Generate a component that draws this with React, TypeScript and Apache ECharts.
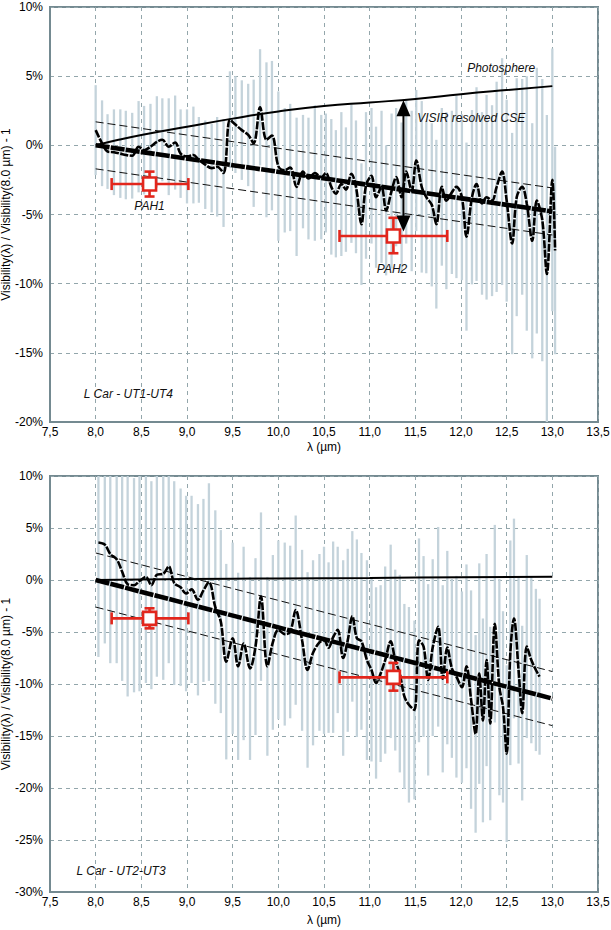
import React, { useEffect, useRef } from "react";
import * as echarts from "echarts";

// ---------- DATA ----------
// Panel A : L Car - UT1-UT4
const lambdaA = [8.00, 8.07, 8.13, 8.20, 8.27, 8.33, 8.40, 8.47, 8.53, 8.60, 8.67, 8.73, 8.80, 8.87, 8.93, 9.00, 9.07, 9.13, 9.20, 9.27, 9.33, 9.40, 9.47, 9.53, 9.60, 9.67, 9.73, 9.80, 9.87, 9.93, 10.00, 10.07, 10.13, 10.20, 10.27, 10.33, 10.40, 10.47, 10.52, 10.58, 10.63, 10.69, 10.74, 10.80, 10.85, 10.91, 10.96, 11.02, 11.07, 11.13, 11.18, 11.24, 11.29, 11.35, 11.40, 11.46, 11.51, 11.57, 11.62, 11.68, 11.73, 11.79, 11.84, 11.90, 11.95, 12.01, 12.06, 12.12, 12.17, 12.23, 12.28, 12.34, 12.39, 12.45, 12.50, 12.56, 12.61, 12.67, 12.72, 12.78, 12.83, 12.89, 12.94, 13.00, 13.03];
const visA = [1.1, 0.15, -0.45, -0.5, -0.6, -0.7, -0.75, -0.1, -0.35, -0.1, 0.25, 0.4, -0.1, 0.2, -0.6, -0.8, -0.7, -1.05, -1.4, -1.65, -1.55, -2.0, 1.85, 1.5, 1.1, 0.75, 0.15, 2.75, 0.4, 0.7, -1.5, -1.8, -1.6, -3.0, -1.9, -2.4, -2.0, -2.3, -2.0, -3.0, -3.5, -2.8, -3.2, -2.05, -3.0, -5.7, -2.9, -2.2, -3.75, -3.0, -4.7, -3.3, -2.3, -3.75, -1.9, -3.3, -1.1, -3.0, -3.75, -4.3, -5.7, -3.0, -4.0, -3.4, -3.0, -3.75, -6.6, -3.75, -2.8, -4.2, -3.75, -4.0, -3.0, -1.9, -4.0, -7.1, -3.75, -3.0, -4.2, -6.9, -4.0, -5.4, -9.3, -2.5, -7.6];
const errA = [3.25, 3.1, 2.7, 3.1, 3.2, 3.2, 3.1, 3.3, 3.2, 3.1, 3.3, 3.0, 3.5, 3.4, 3.2, 3.4, 3.5, 3.1, 3.2, 3.2, 3.6, 3.9, 3.5, 3.5, 3.6, 3.7, 4.6, 4.2, 5.6, 5.4, 5.4, 4.5, 4.6, 5.0, 4.1, 4.4, 4.9, 4.5, 4.3, 4.9, 4.6, 5.2, 4.5, 5.0, 4.8, 4.4, 5.3, 4.9, 5.1, 5.5, 4.7, 5.6, 5.0, 5.4, 5.2, 5.8, 5.1, 6.2, 5.5, 5.9, 6.1, 5.7, 6.4, 5.9, 6.6, 6.0, 6.8, 6.3, 7.0, 6.6, 7.4, 6.9, 7.6, 8.2, 7.3, 8.0, 8.6, 7.8, 9.2, 8.5, 9.6, 10.2, 11.5, 9.5, 7.5];
const photoLambdaA = [8.0, 8.25, 8.5, 9.0, 9.5, 10.0, 10.5, 11.0, 11.5, 12.0, 12.5, 13.0];
const photoA = [0, 0.4, 0.75, 1.35, 1.93, 2.45, 2.85, 3.1, 3.35, 3.7, 4.0, 4.28];
const fitLambda = [8.0, 13.0];
const fitA = [0, -4.78];
const fitBandA = 1.7;
// PAH points: [lambda, value, lambdaLow, lambdaHigh, valueLow, valueHigh]
const pahA = [
  [8.59, -2.8, 8.175, 9.015, -3.7, -1.9],
  [11.26, -6.55, 10.67, 11.85, -7.8, -5.24],
];
const cseArrowA = [11.37, 3.26, -6.23];

// Panel B : L Car - UT2-UT3
const lambdaB = [8.03, 8.10, 8.16, 8.23, 8.29, 8.35, 8.42, 8.48, 8.55, 8.61, 8.67, 8.74, 8.80, 8.86, 8.93, 8.99, 9.05, 9.12, 9.18, 9.24, 9.31, 9.37, 9.43, 9.50, 9.56, 9.62, 9.69, 9.75, 9.81, 9.88, 9.94, 10.00, 10.07, 10.13, 10.19, 10.26, 10.32, 10.38, 10.45, 10.50, 10.55, 10.60, 10.65, 10.71, 10.76, 10.81, 10.86, 10.91, 10.97, 11.02, 11.07, 11.12, 11.17, 11.23, 11.28, 11.33, 11.38, 11.43, 11.49, 11.54, 11.59, 11.64, 11.69, 11.75, 11.80, 11.85, 11.90, 11.95, 12.01, 12.06, 12.11, 12.16, 12.20, 12.24, 12.28, 12.32, 12.37, 12.42, 12.46, 12.50, 12.54, 12.58, 12.63, 12.67, 12.72, 12.77, 12.82, 12.86];
const visB = [3.6, 3.4, 2.5, 2.0, 0.8, -0.4, -0.5, -0.1, 0.3, -0.5, 0.5, 0.6, 1.3, -0.3, -0.7, -1.3, -0.9, -1.9, -1.0, -0.2, -2.6, -4.0, -7.85, -5.6, -8.3, -6.1, -8.5, -6.4, -1.6, -8.3, -6.0, -4.8, -5.2, -5.0, -2.9, -5.8, -8.65, -7.0, -6.0, -5.8, -6.5, -5.5, -4.8, -7.5, -5.8, -3.5, -5.6, -5.9, -7.7, -8.65, -9.9, -9.0, -7.7, -5.9, -7.7, -9.0, -11.2, -12.0, -12.5, -5.8, -6.4, -9.6, -6.5, -4.5, -9.5, -6.5, -8.5, -9.3, -10.3, -8.3, -11.5, -14.8, -9.0, -13.5, -7.7, -13.8, -4.2, -10.3, -12.2, -16.7, -7.0, -3.7, -8.65, -12.8, -6.4, -7.7, -8.65, -9.3];
const errB = [11.0, 9.5, 10.5, 10.0, 10.5, 10.8, 10.3, 10.6, 10.2, 10.0, 9.8, 10.2, 9.3, 9.8, 9.5, 9.4, 9.0, 9.2, 8.8, 9.5, 9.3, 8.8, 9.4, 9.2, 9.0, 9.3, 8.8, 8.5, 8.1, 8.6, 8.4, 8.6, 8.8, 8.3, 9.1, 8.7, 9.4, 8.9, 8.5, 9.0, 8.2, 9.2, 8.0, 9.4, 8.8, 8.2, 9.5, 8.5, 9.6, 8.8, 9.2, 8.5, 9.0, 9.3, 8.7, 9.5, 8.9, 9.4, 8.6, 9.8, 8.7, 9.2, 8.5, 9.6, 9.0, 9.3, 8.6, 9.7, 9.2, 9.8, 10.5, 9.5, 10.6, 9.8, 10.2, 9.3, 9.5, 10.4, 9.2, 8.5, 10.8, 9.6, 9.0, 8.4, 8.8, 8.0, 7.8, 7.5];
const photoLambdaB = [8.0, 9.0, 10.0, 11.0, 12.0, 13.0];
const photoB = [0, 0.1, 0.15, 0.2, 0.27, 0.32];
const fitB = [0, -11.4];
const fitBandB = 2.6;
const pahB = [
  [8.59, -3.69, 8.175, 9.015, -4.65, -2.72],
  [11.26, -9.36, 10.67, 11.85, -10.64, -7.97],
];

// axis ranges / ticks
const xMin = 7.5, xMax = 13.5, xStep = 0.5;
const yRangeA = [-20, 10];
const yRangeB = [-30, 10];
const yStep = 5;

// ---------- STYLE ----------
const FONT = "'Liberation Sans', Arial, Helvetica, sans-serif";
const RED = "#e2261c";
const BAR = "#c4d3db";
const FRAME = "#748a91";
const GRIDC = "#93a6ab";

function pairs(xs: number[], ys: number[]) {
  return xs.map((x, i) => [x, ys[i]]);
}

function errRender(lo: number, hi: number) {
  return (params: any, api: any) => {
    const x = api.value(0);
    const a = Math.max(api.value(1), lo);
    const b = Math.min(api.value(2), hi);
    if (b <= lo || a >= hi) return null;
    const p1 = api.coord([x, b]);
    const p2 = api.coord([x, a]);
    return {
      type: "line",
      shape: { x1: p1[0], y1: p1[1], x2: p2[0], y2: p2[1] },
      style: { stroke: BAR, lineWidth: 2.3 },
    };
  };
}

function pahRender(params: any, api: any) {
  const x = api.value(0), y = api.value(1);
  const c = api.coord([x, y]);
  const l = api.coord([api.value(2), y]);
  const r = api.coord([api.value(3), y]);
  const b = api.coord([x, api.value(4)]);
  const t = api.coord([x, api.value(5)]);
  const lw = 2.6, hc = 6, vc = 5, s = 6.5;
  const st = { stroke: RED, lineWidth: lw };
  const ln = (x1: number, y1: number, x2: number, y2: number) => ({ type: "line", shape: { x1, y1, x2, y2 }, style: st });
  return {
    type: "group",
    children: [
      ln(l[0], c[1], r[0], c[1]),
      ln(l[0], c[1] - hc, l[0], c[1] + hc),
      ln(r[0], c[1] - hc, r[0], c[1] + hc),
      ln(c[0], t[1], c[0], b[1]),
      ln(c[0] - vc, t[1], c[0] + vc, t[1]),
      ln(c[0] - vc, b[1], c[0] + vc, b[1]),
      { type: "rect", shape: { x: c[0] - s, y: c[1] - s, width: 2 * s, height: 2 * s }, style: { fill: "#fff", stroke: RED, lineWidth: lw } },
    ],
  };
}

function arrowRender(params: any, api: any) {
  const x = api.value(0);
  const t = api.coord([x, api.value(1)]);
  const b = api.coord([x, api.value(2)]);
  const hw = 7, hh = 16;
  return {
    type: "group",
    children: [
      { type: "line", shape: { x1: t[0], y1: t[1] + hh - 2, x2: b[0], y2: b[1] - hh + 2 }, style: { stroke: "#000", lineWidth: 2 } },
      { type: "polygon", shape: { points: [[t[0], t[1]], [t[0] - hw, t[1] + hh], [t[0] + hw, t[1] + hh]] }, style: { fill: "#000" } },
      { type: "polygon", shape: { points: [[b[0], b[1]], [b[0] - hw, b[1] - hh], [b[0] + hw, b[1] - hh]] }, style: { fill: "#000" } },
    ],
  };
}

function textSeries(items: { at: number[]; text: string; align: string }[], xi: number) {
  return {
    type: "custom",
    xAxisIndex: xi,
    yAxisIndex: xi,
    z: 10,
    silent: true,
    data: items.map((d) => d.at),
    renderItem: (params: any, api: any) => {
      const it = items[params.dataIndex];
      const p = api.coord([api.value(0), api.value(1)]);
      return {
        type: "text",
        x: p[0],
        y: p[1],
        style: {
          text: it.text,
          fill: "#111",
          fontFamily: FONT,
          fontStyle: "italic",
          fontSize: 12,
          align: it.align,
          verticalAlign: "middle",
        },
      };
    },
  };
}

function lineSeries(data: number[][], idx: number, style: any, smooth: any = false, z = 3) {
  return {
    type: "line",
    xAxisIndex: idx,
    yAxisIndex: idx,
    data,
    smooth,
    symbol: "none",
    z,
    silent: true,
    lineStyle: style,
  };
}

function panelSeries(idx: number, lam: number[], vis: number[], err: number[], pLam: number[], photo: number[], fit: number[], band: number, pah: number[][], yr: number[]) {
  const fitUp = fit.map((v) => v + band);
  const fitLo = fit.map((v) => v - band);
  return [
    {
      type: "custom",
      xAxisIndex: idx,
      yAxisIndex: idx,
      z: 1,
      silent: true,
      data: lam.map((l, i) => [l, vis[i] - err[i], vis[i] + err[i]]),
      renderItem: errRender(yr[0], yr[1]),
    },
    lineSeries(pairs(pLam, photo), idx, { color: "#000", width: 2 }, true, 3),
    lineSeries(pairs(fitLambda, fitUp), idx, { color: "#111", width: 1, type: [8, 4] }, false, 3),
    lineSeries(pairs(fitLambda, fitLo), idx, { color: "#111", width: 1, type: [8, 4] }, false, 3),
    lineSeries(pairs(lam, vis), idx, { color: "#000", width: 2.6, type: [8, 1.4] }, 0.35, 4),
    lineSeries(pairs(fitLambda, fit), idx, { color: "#000", width: 4.6, type: [14, 1.2] }, false, 5),
    {
      type: "custom",
      xAxisIndex: idx,
      yAxisIndex: idx,
      z: 8,
      silent: true,
      data: pah,
      renderItem: pahRender,
    },
  ];
}

function xAxis(idx: number, gap: number) {
  return {
    type: "value",
    gridIndex: idx,
    min: xMin,
    max: xMax,
    interval: xStep,
    name: "λ (µm)",
    nameLocation: "middle",
    nameGap: gap,
    nameMoveOverlap: false,
    nameTextStyle: { fontFamily: FONT, fontSize: 12, color: "#000" },
    axisLine: { show: true, onZero: false, lineStyle: { color: FRAME, width: 2 } },
    axisTick: { show: false },
    axisLabel: {
      fontFamily: FONT,
      fontSize: 12,
      color: "#000",
      margin: 4,
      showMinLabel: true,
      showMaxLabel: true,
      formatter: (v: number) => v.toFixed(1).replace(".", ","),
    },
    splitLine: { show: true, lineStyle: { color: GRIDC, width: 1, type: [4, 4] } },
  };
}

function yAxis(idx: number, yr: number[]) {
  return {
    type: "value",
    gridIndex: idx,
    min: yr[0],
    max: yr[1],
    interval: yStep,
    name: "Visibility(λ) / Visibility(8.0 µm) - 1",
    nameLocation: "middle",
    nameGap: 38,
    nameMoveOverlap: false,
    nameTextStyle: { fontFamily: FONT, fontSize: 12, color: "#000" },
    axisLine: { show: true, onZero: false, lineStyle: { color: FRAME, width: 2 } },
    axisTick: { show: false },
    axisLabel: {
      fontFamily: FONT,
      fontSize: 12,
      color: "#000",
      margin: 7,
      showMinLabel: true,
      showMaxLabel: true,
      formatter: (v: number) => v + "%",
    },
    splitLine: { show: true, lineStyle: { color: GRIDC, width: 1, type: [4, 4] } },
  };
}

export default function App() {
  const ref = useRef<HTMLDivElement>(null);
  useEffect(() => {
    if (!ref.current) return;
    const chart = echarts.init(ref.current, null, { renderer: "svg" });
    const textsA = [
      { at: [12.44, 5.6], text: "Photosphere", align: "center" },
      { at: [11.52, 1.96], text: "VISIR resolved CSE", align: "left" },
      { at: [8.59, -4.4], text: "PAH1", align: "center" },
      { at: [11.245, -8.95], text: "PAH2", align: "center" },
      { at: [7.87, -17.95], text: "L Car - UT1-UT4", align: "left" },
    ];
    const textsB = [{ at: [7.79, -28.0], text: "L Car - UT2-UT3", align: "left" }];
    const gridBase = { show: true, borderColor: FRAME, borderWidth: 2, backgroundColor: "transparent", containLabel: false, outerBoundsMode: "none" };
    const option: any = {
      animation: false,
      backgroundColor: "#fff",
      grid: [
        { ...gridBase, left: 50, top: 7, width: 548, height: 415 },
        { ...gridBase, left: 50, top: 476, width: 548, height: 416 },
      ],
      xAxis: [xAxis(0, 19), xAxis(1, 22)],
      yAxis: [yAxis(0, yRangeA), yAxis(1, yRangeB)],
      series: [
        ...panelSeries(0, lambdaA, visA, errA, photoLambdaA, photoA, fitA, fitBandA, pahA, yRangeA),
        {
          type: "custom",
          xAxisIndex: 0,
          yAxisIndex: 0,
          z: 9,
          silent: true,
          data: [cseArrowA],
          renderItem: arrowRender,
        },
        textSeries(textsA, 0),
        ...panelSeries(1, lambdaB, visB, errB, photoLambdaB, photoB, fitB, fitBandB, pahB, yRangeB),
        textSeries(textsB, 1),
      ],
    };
    chart.setOption(option);
    return () => chart.dispose();
  }, []);
  return <div ref={ref} style={{ position: "fixed", left: 0, top: 0, width: 611, height: 930, background: "#fff" }} />;
}
